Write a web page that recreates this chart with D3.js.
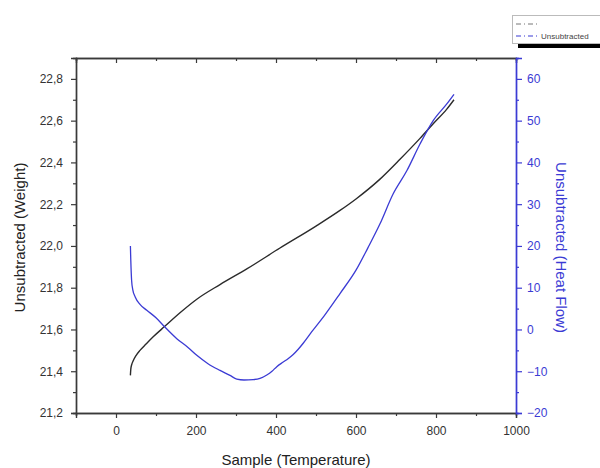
<!DOCTYPE html>
<html>
<head>
<meta charset="utf-8">
<script src="https://cdn.jsdelivr.net/npm/d3@7/dist/d3.min.js"></script>
<style>
  body { margin: 0; background: #fff; }
  svg { font-family: "Liberation Sans", Arial, sans-serif; }
</style>
</head>
<body>
<script>
// Weight curve (black)
const weightTemp = [36, 37, 39, 43, 50, 60, 75, 93, 122, 160, 202, 260, 327, 410, 500, 560, 600, 660, 710, 760, 793, 827, 845];
const weightVals = [21.38, 21.41, 21.43, 21.45, 21.475, 21.50, 21.53, 21.565, 21.615, 21.68, 21.745, 21.815, 21.89, 21.99, 22.095, 22.17, 22.225, 22.32, 22.415, 22.515, 22.585, 22.655, 22.70];

// Heat flow curve (blue)
const heatTemp = [36, 37, 39, 42, 48, 60, 77, 100, 122, 152, 180, 202, 230, 260, 285, 302, 320, 343, 360, 377, 390, 402, 418, 430, 443, 455, 468, 489, 520, 560, 600, 630, 660, 693, 727, 760, 793, 827, 845];
const heatVals = [20.0, 16.5, 11.8, 9.5, 7.8, 6.0, 4.6, 2.8, 0.6, -2.2, -4.3, -6.2, -8.2, -9.8, -11.0, -11.9, -12.1, -12.0, -11.7, -10.9, -10.0, -8.9, -7.8, -7.0, -6.0, -4.8, -3.3, -0.6, 3.2, 8.6, 14.2, 19.6, 25.3, 32.5, 38.0, 44.4, 50.0, 54.0, 56.3];

const xTicks = [0, 200, 400, 600, 800, 1000];
const weightTicks = [21.2, 21.4, 21.6, 21.8, 22.0, 22.2, 22.4, 22.6, 22.8];
const heatTicks = [-20, -10, 0, 10, 20, 30, 40, 50, 60];

const W = 600, H = 468;
const plotL = 76, plotR = 516, plotT = 58, plotB = 413;
const axisColor = "#3a3a3a", blue = "#3b3bd4", textColor = "#333";

const svg = d3.select("body").append("svg")
  .attr("width", W).attr("height", H);

const x = d3.scaleLinear().domain([-100, 1000]).range([plotL, plotR]);
const yW = d3.scaleLinear().domain([21.2, 22.9]).range([plotB, plotT]);
const yH = d3.scaleLinear().domain([-20, 65]).range([plotB, plotT]);

const comma = d3.formatLocale({ decimal: ",", thousands: ".", grouping: [3], currency: ["", ""] });
const fmt1 = comma.format(".1f");

// minor tick values
const xMinor = d3.range(-100, 1001, 100).filter(v => v % 200 !== 0);
const wMinor = d3.range(21.3, 22.9, 0.2).map(v => +v.toFixed(1));
const hMinor = d3.range(-15, 65, 10);

function styleAxis(g, color) {
  g.select(".domain").attr("stroke", color).attr("stroke-width", 1.4).attr("fill", "none");
  g.selectAll(".tick line").attr("stroke", color).attr("stroke-width", 1.2);
  g.selectAll(".tick text").attr("fill", color === blue ? blue : textColor).style("font-size", "12px");
}

// bottom axis
svg.append("g").attr("transform", `translate(0,${plotB})`)
  .call(d3.axisBottom(x).tickValues(xMinor).tickSize(3).tickFormat(""))
  .call(g => styleAxis(g, axisColor));
svg.append("g").attr("transform", `translate(0,${plotB})`)
  .call(d3.axisBottom(x).tickValues(xTicks).tickSize(5).tickPadding(8).tickFormat(d3.format("d")))
  .call(g => styleAxis(g, axisColor));

// top axis (mirror, inward ticks)
svg.append("g").attr("transform", `translate(0,${plotT})`)
  .call(d3.axisTop(x).tickValues(xMinor).tickSize(-3).tickFormat(""))
  .call(g => styleAxis(g, axisColor));
svg.append("g").attr("transform", `translate(0,${plotT})`)
  .call(d3.axisTop(x).tickValues(xTicks).tickSize(-5).tickFormat(""))
  .call(g => styleAxis(g, axisColor));

// left axis
svg.append("g").attr("transform", `translate(${plotL},0)`)
  .call(d3.axisLeft(yW).tickValues(wMinor).tickSize(3).tickFormat(""))
  .call(g => styleAxis(g, axisColor));
svg.append("g").attr("transform", `translate(${plotL},0)`)
  .call(d3.axisLeft(yW).tickValues(weightTicks).tickSize(5).tickPadding(8).tickFormat(fmt1))
  .call(g => styleAxis(g, axisColor));

// right axis
svg.append("g").attr("transform", `translate(${plotR},0)`)
  .call(d3.axisRight(yH).tickValues(hMinor).tickSize(3).tickFormat(""))
  .call(g => styleAxis(g, blue));
svg.append("g").attr("transform", `translate(${plotR},0)`)
  .call(d3.axisRight(yH).tickValues(heatTicks).tickSize(6).tickPadding(5).tickFormat(d3.format("d")))
  .call(g => styleAxis(g, blue));

// lines
const weightData = weightTemp.map((t, i) => [t, weightVals[i]]);
const heatData = heatTemp.map((t, i) => [t, heatVals[i]]);

svg.append("path")
  .datum(weightData)
  .attr("fill", "none")
  .attr("stroke", "#2b2b2b")
  .attr("stroke-width", 1.4)
  .attr("d", d3.line().x(d => x(d[0])).y(d => yW(d[1])).curve(d3.curveMonotoneX));

svg.append("path")
  .datum(heatData)
  .attr("fill", "none")
  .attr("stroke", blue)
  .attr("stroke-width", 1.3)
  .attr("d", d3.line().x(d => x(d[0])).y(d => yH(d[1])).curve(d3.curveMonotoneX));

// axis titles
svg.append("text")
  .attr("x", (plotL + plotR) / 2).attr("y", 465)
  .attr("text-anchor", "middle")
  .attr("fill", "#222")
  .style("font-size", "15px")
  .text("Sample (Temperature)");

svg.append("text")
  .attr("transform", `translate(25,${(plotT + plotB) / 2 + 2}) rotate(-90)`)
  .attr("text-anchor", "middle")
  .attr("fill", "#222")
  .style("font-size", "15px")
  .text("Unsubtracted (Weight)");

svg.append("text")
  .attr("transform", `translate(556,${(plotT + plotB) / 2 + 12}) rotate(90)`)
  .attr("text-anchor", "middle")
  .attr("fill", blue)
  .style("font-size", "15px")
  .text("Unsubtracted (Heat Flow)");

// legend (cut off at the right edge)
const lg = svg.append("g");
lg.append("rect").attr("x", 518).attr("y", 43).attr("width", 90).attr("height", 5).attr("fill", "#000");
lg.append("rect").attr("x", 512.5).attr("y", 15.5).attr("width", 100).attr("height", 28)
  .attr("fill", "#fff").attr("stroke", "#bbb").attr("stroke-width", 1);
lg.append("line").attr("x1", 516).attr("x2", 538).attr("y1", 24).attr("y2", 24)
  .attr("stroke", "#777").attr("stroke-width", 1).attr("stroke-dasharray", "5,3,1,3");
lg.append("line").attr("x1", 516).attr("x2", 539).attr("y1", 36).attr("y2", 36)
  .attr("stroke", blue).attr("stroke-width", 1.2).attr("stroke-dasharray", "5,3,1,3");
lg.append("text").attr("x", 541).attr("y", 39).attr("fill", "#444")
  .style("font-size", "8px").text("Unsubtracted");
</script>
</body>
</html>
